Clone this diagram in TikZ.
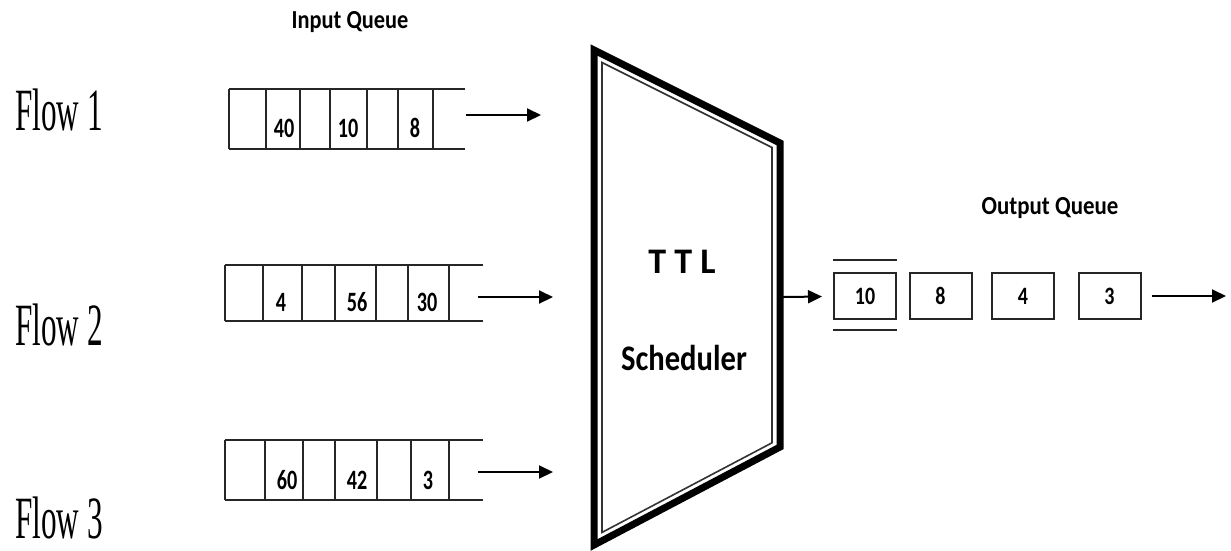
\documentclass[tikz,border=0pt]{standalone}
\usepackage{graphicx}
\usepackage{fontspec}
\setmainfont{Liberation Serif}
\setsansfont{Carlito}
\usetikzlibrary{arrows.meta}

% horizontally condensed text
\newcommand\squeeze[2]{\scalebox{#1}[1]{#2}}

\begin{document}
\begin{tikzpicture}[x=1pt,y=-1pt,
  qline/.style={line width=2pt, draw=black!85},
  flowlabel/.style={anchor=base west, inner sep=0pt, font=\fontsize{60}{60}\selectfont},
  qnum/.style={inner sep=0pt, font=\sffamily\bfseries\fontsize{28}{28}\selectfont},
  onum/.style={font=\sffamily\bfseries\fontsize{25}{25}\selectfont},
  heading/.style={inner sep=0pt, font=\sffamily\bfseries\fontsize{26}{26}\selectfont},
  schtext/.style={inner sep=0pt, font=\sffamily\bfseries\fontsize{36}{36}\selectfont},
  feed/.style={line width=2pt, draw=black, -{Triangle[length=14pt,width=13pt]}},
  obox/.style={draw=black!85, line width=2pt, minimum width=62pt, minimum height=46pt, inner sep=0pt, onum},
]
\useasboundingbox (0,0) rectangle (1231,550);

% flow labels
\node[flowlabel] (flow1) at (15,130) {\squeeze{0.52}{Flow 1}};
\node[flowlabel] (flow2) at (15,345) {\squeeze{0.52}{Flow 2}};
\node[flowlabel] (flow3) at (15,538) {\squeeze{0.52}{Flow 3}};

% headings
\node[heading] (inq)  at (350,22)  {\squeeze{0.86}{Input Queue}};
\node[heading] (outq) at (1050,208) {\squeeze{0.88}{Output Queue}};

% input queue 1
\draw[qline] (229,89) -- (465,89) (229,149) -- (465,149);
\foreach \x in {229,266,300,330,367,398,433} \draw[qline] (\x,89) -- (\x,149);
\node[qnum] (a1) at (284,128) {\squeeze{0.72}{40}};
\node[qnum] (a2) at (348,128) {\squeeze{0.72}{10}};
\node[qnum] (a3) at (415,128) {\squeeze{0.72}{8}};

% input queue 2
\draw[qline] (225,265) -- (483,265) (225,321) -- (483,321);
\foreach \x in {225,263,302,335,376,408,449} \draw[qline] (\x,265) -- (\x,321);
\node[qnum] (b1) at (281,302) {\squeeze{0.72}{4}};
\node[qnum] (b2) at (357,302) {\squeeze{0.72}{56}};
\node[qnum] (b3) at (427,302) {\squeeze{0.72}{30}};

% input queue 3
\draw[qline] (225,440) -- (483,440) (225,500) -- (483,500);
\foreach \x in {225,265,303,335,377,411,449} \draw[qline] (\x,440) -- (\x,500);
\node[qnum] (c1) at (287,480) {\squeeze{0.72}{60}};
\node[qnum] (c2) at (357,480) {\squeeze{0.72}{42}};
\node[qnum] (c3) at (428,480) {\squeeze{0.72}{3}};

% queue exits
\coordinate (q1out) at (466,115);  \coordinate (q1tip) at (541,115);
\coordinate (q2out) at (478,297);  \coordinate (q2tip) at (553,297);
\coordinate (q3out) at (478,472);  \coordinate (q3tip) at (553,472);
\draw[feed] (q1out) -- (q1tip);
\draw[feed] (q2out) -- (q2tip);
\draw[feed] (q3out) -- (q3tip);

% scheduler body: heavy outer frame with a thin inner frame
\draw[line width=7pt, line join=miter] (594,50) -- (780,143) -- (780,447) -- (594,545) -- cycle;
\draw[line width=1.6pt, draw=black!80] (602,62.5) -- (772,147.5) -- (772,442.8) -- (602,532.4) -- cycle;
\node[schtext] (ttl) at (682,262) {T T L};
\node[schtext] (sched) at (684,358) {\squeeze{0.85}{Scheduler}};
\coordinate (schout) at (783,297);

% output queue
\node[obox] (o1) at (865,296)  {\squeeze{0.8}{10}};
\node[obox] (o2) at (940.5,296) {\squeeze{0.8}{8}};
\node[obox] (o3) at (1023,296) {\squeeze{0.8}{4}};
\node[obox] (o4) at (1109.5,296) {\squeeze{0.8}{3}};
\draw[qline] ([yshift=12pt]o1.north west) -- ([yshift=12pt]o1.north east);
\draw[qline] ([yshift=-10pt]o1.south west) -- ([yshift=-10pt]o1.south east);
\coordinate (outend) at (1226,296);

\draw[feed, shorten >=11pt] (schout) -- (o1);
\draw[feed, shorten <=10pt] (o4) -- (outend);
\end{tikzpicture}
\end{document}
